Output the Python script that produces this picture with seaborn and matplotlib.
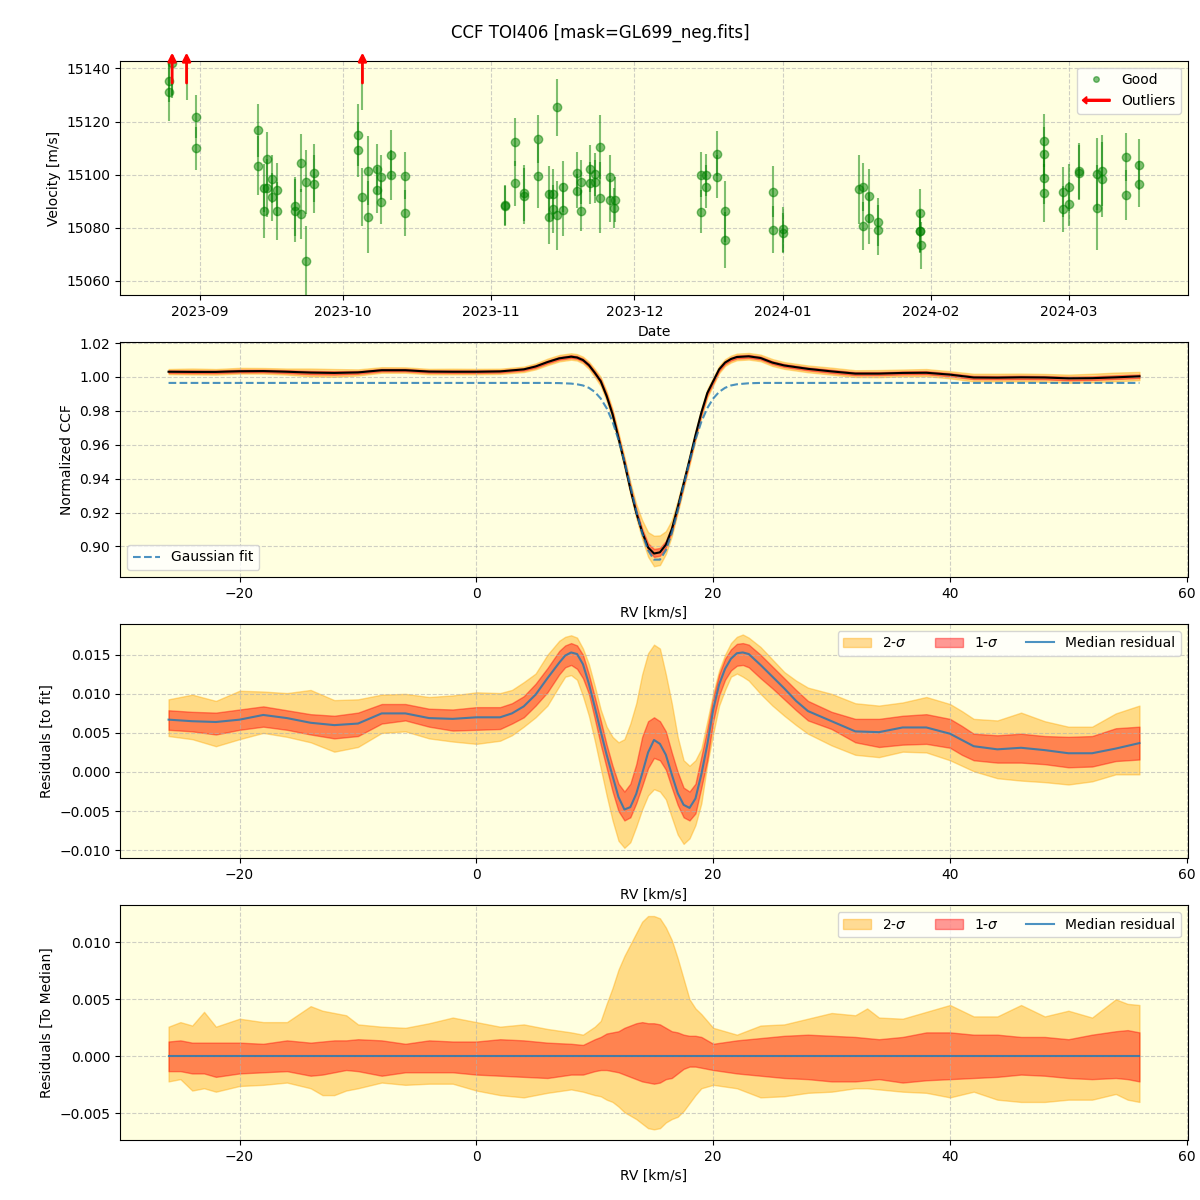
import numpy as np
import pandas as pd
import matplotlib
matplotlib.use("Agg")
import matplotlib.pyplot as plt
import matplotlib.dates as mdates
import matplotlib.patches as mpatches
from matplotlib.lines import Line2D
from matplotlib.legend_handler import HandlerPatch
import seaborn as sns

# ---------------- Panel 1 data: RV time series ----------------
good_dates = (
    ["2023-08-25 12:00"] * 2 + ["2023-08-26 06:00"] + ["2023-08-31 08:00"] * 2 +
    ["2023-09-13 07:00"] * 2 + ["2023-09-14 10:00"] * 2 + ["2023-09-15 05:00"] * 2 +
    ["2023-09-16 06:00"] * 2 + ["2023-09-17 07:00"] * 2 + ["2023-09-21 00:00"] * 2 +
    ["2023-09-22 05:00"] * 2 + ["2023-09-23 05:00"] * 2 + ["2023-09-25 00:00"] * 2 +
    ["2023-10-04 05:00"] * 2 + ["2023-10-05 00:00"] + ["2023-10-06 07:00"] * 2 +
    ["2023-10-08 05:00"] * 2 + ["2023-10-09 00:00"] * 2 + ["2023-10-11 00:00"] * 2 +
    ["2023-10-14 00:00"] * 2 +
    ["2023-11-03 22:00"] * 2 + ["2023-11-06 00:00"] * 2 + ["2023-11-07 19:00"] * 2 +
    ["2023-11-10 22:00"] * 2 + ["2023-11-13 02:00"] * 2 + ["2023-11-14 00:00"] * 2 +
    ["2023-11-14 17:00"] * 2 + ["2023-11-16 00:00"] * 2 + ["2023-11-18 22:00"] * 2 +
    ["2023-11-19 19:00"] * 2 + ["2023-11-21 19:00"] * 2 + ["2023-11-22 17:00"] * 2 +
    ["2023-11-23 17:00"] * 2 + ["2023-11-25 19:00"] * 2 + ["2023-11-26 17:00"] +
    ["2023-11-26 22:00"] +
    ["2023-12-15 00:00"] * 2 + ["2023-12-16 02:00"] * 2 + ["2023-12-18 05:00"] * 2 +
    ["2023-12-20 00:00"] * 2 + ["2023-12-30 02:00"] * 2 + ["2024-01-01 00:00"] * 2 +
    ["2024-01-16 22:00"] + ["2024-01-17 22:00"] * 2 + ["2024-01-19 00:00"] * 2 +
    ["2024-01-21 00:00"] + ["2024-01-20 22:00"] + ["2024-01-29 19:00"] * 3 +
    ["2024-01-30 00:00"] +
    ["2024-02-24 19:00"] * 4 + ["2024-02-28 17:00"] * 2 + ["2024-02-29 22:00"] * 2 +
    ["2024-03-03 00:00"] * 2 + ["2024-03-06 22:00"] * 2 + ["2024-03-07 22:00"] * 2 +
    ["2024-03-12 22:00"] * 2 + ["2024-03-15 17:00"] * 2
)
good_vel = [
    15135.3, 15131.3, 15141.9, 15121.9, 15109.9,
    15116.7, 15103.4, 15094.9, 15086.3, 15106.0, 15094.9, 15098.4, 15091.5, 15094.3,
    15086.3, 15088.1, 15086.5, 15104.5, 15085.2, 15097.4, 15067.6, 15100.7, 15096.5,
    15115.1, 15109.4, 15091.6, 15101.5, 15084.1, 15102.2, 15094.3, 15099.1, 15089.7,
    15107.5, 15100.0, 15099.6, 15085.6,
    15088.7, 15088.2, 15112.4, 15096.7, 15093.1, 15092.0, 15113.5, 15099.6, 15092.8,
    15084.1, 15092.8, 15087.0, 15125.4, 15084.8, 15095.4, 15086.9, 15100.5, 15093.9,
    15097.1, 15086.5, 15102.3, 15096.9, 15100.1, 15097.3, 15110.3, 15091.4, 15099.3,
    15090.3, 15087.5, 15090.6,
    15100.0, 15086.0, 15100.0, 15095.4, 15107.9, 15099.2, 15086.3, 15075.4, 15093.5,
    15079.3, 15079.5, 15078.0,
    15094.5, 15095.4, 15080.7, 15092.0, 15083.7, 15082.2, 15079.2, 15085.6, 15078.9,
    15078.7, 15073.5,
    15112.8, 15107.9, 15098.8, 15093.1, 15093.4, 15087.1, 15095.2, 15089.0,
    15101.5, 15100.8, 15100.3, 15087.6, 15101.5, 15098.2, 15106.8, 15092.5, 15103.8,
    15096.5,
]
good_err = [
    8, 11, 13, 8, 8,
    10, 11, 9, 10, 10, 11, 9, 9, 10, 11, 11, 12, 11, 9.5, 12, 13, 11, 11,
    11.7, 10.3, 11, 13, 13.4, 9.5, 8.7, 8.2, 8.3, 9.2, 9.4, 8.9, 8.6,
    7.5, 7.5, 9, 8.6, 10.4, 10.6, 9, 12, 10.3, 10, 9.4, 9, 10.7, 13, 9.6, 9.9, 8, 6.5,
    8.3, 7.6, 8.7, 7.9, 8, 8.1, 12.1, 13.5, 8.2, 8, 7.5, 8.5,
    8.5, 8.1, 7.9, 8.1, 8.4, 8.1, 11.5, 10.4, 9.6, 8.9, 8.5, 7.5,
    13, 9.1, 9, 10, 9.6, 9.1, 9.4, 9.1, 8, 8, 8.8,
    9.9, 10, 10, 11, 9.4, 8.8, 8.9, 8.4,
    10.5, 10.5, 13.6, 15.9, 13.3, 14.2, 9, 9.4, 9.5, 8.7,
]
out_dates = ["2023-08-26 06:00", "2023-08-29 06:30", "2023-10-05 02:00"]
out_vel = [15150.0, 15150.0, 15150.0]
out_err = [20.0, 21.7, 25.7]

# ---------------- Panel 2 data: CCF ----------------
rv2 = [-26, -24, -22, -20, -18, -16, -14, -12, -10, -8, -6, -4, -2, 0, 2,
       4, 5, 6, 7, 8,
       8.5, 9, 9.5, 10, 10.5, 11, 11.5, 12, 12.5, 13, 13.5, 14, 14.5, 15, 15.5, 16,
       16.5, 17, 17.5, 18, 18.5, 19, 19.5, 20, 20.5, 21, 21.5, 22,
       23, 24, 25, 26,
       28, 30, 32, 34, 36, 38, 40, 42, 44, 46, 48, 50, 52, 54, 56]
ccf_med = [1.0031, 1.0030, 1.0030, 1.0034, 1.0035, 1.0031, 1.0026, 1.0024, 1.0027, 1.0040,
           1.0040, 1.0032, 1.0031, 1.0031, 1.0033,
           1.0045, 1.0062, 1.0088, 1.0110, 1.0120,
           1.0115, 1.0100, 1.0070, 1.0025, 0.9975, 0.9888, 0.9780, 0.9640, 0.9495, 0.9340,
           0.9200, 0.9085, 0.8994, 0.8958, 0.8965, 0.9010, 0.9100, 0.9230, 0.9370, 0.9510,
           0.9655, 0.9790, 0.9905, 0.9975, 1.0045, 1.0085, 1.0106, 1.0118,
           1.0122, 1.0112, 1.0085, 1.0068,
           1.0048, 1.0033, 1.0020, 1.0020, 1.0024, 1.0025, 1.0014, 0.9997, 0.9996, 0.9998,
           0.9997, 0.9992, 0.9993, 0.9998, 1.0004]
gauss_fit = [0.9965] * 15 + [
    0.9965, 0.9965, 0.9965, 0.9964, 0.9961,
    0.9957, 0.9950, 0.9936, 0.9912, 0.9873, 0.9816, 0.9736, 0.9630, 0.9502, 0.9358,
    0.9211, 0.9078, 0.8977, 0.8922, 0.8922, 0.8977, 0.9078, 0.9211, 0.9358, 0.9502,
    0.9630, 0.9736, 0.9816, 0.9873, 0.9912, 0.9936, 0.9950, 0.9957,
    0.9963, 0.9965, 0.9965, 0.9965] + [0.9965] * 15
# band half-widths in units of 1e-3
ccf_d2_up = [1.6, 2.0, 1.7, 2.0, 1.8, 1.9, 2.4, 2.3, 1.8, 1.8, 1.7, 1.6, 1.8, 1.7, 1.6,
             1.6, 1.8, 2.0, 2.0, 2.0,
             2.0, 2.0, 2.0, 2.2, 2.5, 2.8, 3.0, 3.2, 3.5, 4.0, 5.0, 7.0, 9.0, 10.5, 10.0, 8.0,
             5.5, 4.0, 3.2, 3.0, 2.8, 2.5, 2.3, 2.2, 2.0, 2.0, 2.0, 2.0,
             2.0, 2.0, 2.1, 2.0,
             2.0, 2.2, 2.0, 2.1, 2.0, 2.2, 2.0, 2.2, 2.3, 2.2, 2.1, 2.2, 2.6, 2.8, 2.6]
ccf_d2_dn = [1.4, 1.5, 1.6, 1.4, 1.5, 1.7, 2.2, 2.3, 1.8, 1.5, 1.5, 1.6, 1.5, 1.5, 1.5,
             1.6, 1.7, 1.8, 1.8, 1.8,
             1.8, 2.0, 2.2, 2.5, 2.8, 3.0, 3.0, 3.0, 3.0, 3.0, 3.2, 4.0, 5.5, 7.5, 7.5, 5.5,
             4.0, 3.2, 3.0, 3.0, 3.0, 2.8, 2.6, 2.4, 2.2, 2.0, 2.0, 1.9,
             1.9, 1.9, 2.0, 2.0,
             2.0, 1.9, 2.0, 2.1, 2.0, 2.0, 2.2, 2.3, 2.2, 2.4, 2.5, 2.6, 2.4, 2.3, 2.3]
ccf_d1_up = [0.8, 0.9, 0.8, 0.9, 0.8, 0.9, 1.0, 1.0, 0.8, 0.8, 0.8, 0.7, 0.8, 0.8, 0.7,
             0.7, 0.8, 0.9, 0.9, 0.9,
             0.9, 0.9, 0.9, 1.0, 1.1, 1.2, 1.3, 1.4, 1.5, 1.7, 2.0, 1.9, 2.4, 2.7, 2.6, 2.2,
             2.0, 1.6, 1.4, 1.3, 1.2, 1.1, 1.0, 1.0, 0.9, 0.9, 0.9, 0.9,
             0.9, 0.9, 0.9, 0.9,
             0.9, 1.0, 0.9, 0.9, 0.9, 1.0, 0.9, 1.0, 1.0, 1.0, 0.9, 1.0, 1.1, 1.2, 1.1]
ccf_d1_dn = [0.7, 0.7, 0.7, 0.7, 0.7, 0.8, 1.0, 1.0, 0.8, 0.7, 0.7, 0.7, 0.7, 0.7, 0.7,
             0.7, 0.8, 0.8, 0.8, 0.8,
             0.8, 0.9, 1.0, 1.1, 1.2, 1.3, 1.3, 1.3, 1.3, 1.3, 1.4, 1.5, 1.7, 2.0, 2.0, 1.7,
             1.5, 1.4, 1.3, 1.3, 1.3, 1.2, 1.1, 1.1, 1.0, 0.9, 0.9, 0.9,
             0.9, 0.9, 0.9, 0.9,
             0.9, 0.9, 0.9, 0.9, 0.9, 0.9, 1.0, 1.0, 1.0, 1.1, 1.1, 1.2, 1.1, 1.0, 1.0]

# ---------------- Panel 3 data: residuals to fit ----------------
rv3 = [-26, -24, -22, -20, -18, -16, -14, -12, -10, -8, -6, -4, -2, 0, 2,
       3, 4, 5, 6, 7,
       7.5, 8, 8.5, 9, 9.5, 10, 10.5, 11, 11.5, 12, 12.5, 13, 13.5, 14, 14.5, 15, 15.5,
       16, 16.5, 17, 17.5, 18, 18.5, 19, 19.5, 20, 20.5, 21, 21.5, 22, 22.5, 23,
       24, 25, 26, 27, 28,
       30, 32, 34, 36, 38, 40, 41,
       42, 44, 46, 48, 50, 52, 54, 56]
res_med = [0.0067, 0.0065, 0.0064, 0.0067, 0.0073, 0.0069, 0.0063, 0.0060, 0.0062, 0.0075,
           0.0075, 0.0069, 0.0068, 0.0070, 0.0070,
           0.0075, 0.0084, 0.0099, 0.0120, 0.0140,
           0.0149, 0.0153, 0.0151, 0.0138, 0.0113, 0.0083, 0.0052, 0.0022, -0.0005, -0.0032,
           -0.0048, -0.0045, -0.0028, -0.0002, 0.0025, 0.0041, 0.0036, 0.0022, -0.0003,
           -0.0027, -0.0042, -0.0046, -0.0034, -0.0003, 0.0035, 0.0080, 0.0112, 0.0132,
           0.0145, 0.0152, 0.0153, 0.0151,
           0.0137, 0.0122, 0.0107, 0.0091, 0.0078,
           0.0065, 0.0052, 0.0051, 0.0057, 0.0057, 0.0049, 0.0041,
           0.0033, 0.0029, 0.0031, 0.0028, 0.0024, 0.0024, 0.0030, 0.0037]
res_hi2 = [0.0093, 0.0099, 0.0091, 0.0104, 0.0103, 0.0101, 0.0105, 0.0092, 0.0093, 0.0099,
           0.0100, 0.0096, 0.0098, 0.0102, 0.0101,
           0.0105, 0.0115, 0.0126, 0.0150, 0.0168,
           0.0173, 0.0175, 0.0172, 0.0158, 0.0138, 0.0110, 0.0080, 0.0058, 0.0045, 0.0038,
           0.0042, 0.0062, 0.0088, 0.0125, 0.0152, 0.0163, 0.0158, 0.0125, 0.0088, 0.0045,
           0.0015, 0.0008, 0.0015, 0.0030, 0.0065, 0.0101, 0.0130, 0.0150, 0.0165, 0.0173,
           0.0176, 0.0172,
           0.0160, 0.0144, 0.0128, 0.0117, 0.0108,
           0.0100, 0.0088, 0.0085, 0.0089, 0.0096, 0.0087, 0.0078,
           0.0068, 0.0066, 0.0076, 0.0065, 0.0058, 0.0058, 0.0075, 0.0085]
res_lo2 = [0.0046, 0.0042, 0.0033, 0.0042, 0.0050, 0.0045, 0.0038, 0.0026, 0.0032, 0.0050,
           0.0052, 0.0043, 0.0039, 0.0036, 0.0040,
           0.0047, 0.0058, 0.0070, 0.0085, 0.0110,
           0.0122, 0.0124, 0.0118, 0.0097, 0.0072, 0.0040, 0.0005, -0.0030, -0.0062, -0.0088,
           -0.0097, -0.0090, -0.0070, -0.0048, -0.0030, -0.0022, -0.0025, -0.0035, -0.0058,
           -0.0080, -0.0092, -0.0085, -0.0068, -0.0040, 0.0010, 0.0049, 0.0085, 0.0105,
           0.0122, 0.0126, 0.0122, 0.0117,
           0.0100, 0.0085, 0.0072, 0.0060, 0.0049,
           0.0034, 0.0022, 0.0019, 0.0026, 0.0025, 0.0015, 0.0008,
           0.0001, -0.0008, -0.0011, -0.0013, -0.0016, -0.0012, -0.0003, -0.0003]
res_hi1 = [0.0079, 0.0077, 0.0076, 0.0080, 0.0084, 0.0079, 0.0074, 0.0072, 0.0076, 0.0087,
           0.0087, 0.0081, 0.0080, 0.0083, 0.0083,
           0.0088, 0.0097, 0.0113, 0.0133, 0.0155,
           0.0162, 0.0165, 0.0162, 0.0150, 0.0125, 0.0096, 0.0066, 0.0035, 0.0008, -0.0015,
           -0.0025, -0.0015, 0.0010, 0.0045, 0.0065, 0.0070, 0.0065, 0.0052, 0.0025, 0.0000,
           -0.0020, -0.0025, -0.0015, 0.0020, 0.0055, 0.0095, 0.0125, 0.0145, 0.0157, 0.0164,
           0.0165, 0.0163,
           0.0150, 0.0135, 0.0120, 0.0105, 0.0091,
           0.0077, 0.0068, 0.0068, 0.0072, 0.0074, 0.0068, 0.0059,
           0.0049, 0.0047, 0.0049, 0.0046, 0.0045, 0.0046, 0.0056, 0.0058]
res_lo1 = [0.0054, 0.0052, 0.0048, 0.0054, 0.0058, 0.0054, 0.0048, 0.0043, 0.0046, 0.0062,
           0.0066, 0.0058, 0.0053, 0.0054, 0.0055,
           0.0062, 0.0070, 0.0085, 0.0102, 0.0125,
           0.0134, 0.0137, 0.0132, 0.0120, 0.0100, 0.0068, 0.0035, 0.0005, -0.0025, -0.0050,
           -0.0062, -0.0058, -0.0040, -0.0018, 0.0005, 0.0018, 0.0015, 0.0003, -0.0020,
           -0.0042, -0.0058, -0.0062, -0.0053, -0.0020, 0.0015, 0.0065, 0.0098, 0.0118,
           0.0130, 0.0136, 0.0137, 0.0134,
           0.0120, 0.0107, 0.0093, 0.0079, 0.0066,
           0.0055, 0.0038, 0.0032, 0.0035, 0.0036, 0.0031, 0.0022,
           0.0015, 0.0012, 0.0012, 0.0010, 0.0006, 0.0007, 0.0014, 0.0016]

# ---------------- Panel 4 data: residuals to median ----------------
rv4 = [-26, -25, -24, -23, -22, -20, -18, -16, -14, -13, -12, -11, -10, -8, -6, -4, -2, 0,
       2, 4, 6, 8, 9, 10, 10.5, 11, 11.5, 12, 12.5, 13, 13.5, 14, 14.5, 15, 15.5, 16, 16.5,
       17, 17.5, 18, 18.5, 19, 20, 22, 24, 26, 28, 30, 32, 33, 34, 36, 38, 40, 42, 44, 46,
       48, 50, 52, 54, 55, 56]
med_hi2 = [0.0026, 0.0030, 0.0027, 0.0039, 0.0026, 0.0033, 0.0030, 0.0030, 0.0044, 0.0040,
           0.0038, 0.0036, 0.0028, 0.0026, 0.0025, 0.0029, 0.0034, 0.0030, 0.0026, 0.0028,
           0.0024, 0.0021, 0.0019, 0.0026, 0.0031, 0.0046, 0.0060, 0.0076, 0.0088, 0.0098,
           0.0108, 0.0118, 0.0123, 0.0123, 0.0121, 0.0113, 0.0102, 0.0086, 0.0068, 0.0050,
           0.0042, 0.0037, 0.0025, 0.0019, 0.0027, 0.0028, 0.0033, 0.0038, 0.0036, 0.0042,
           0.0034, 0.0033, 0.0039, 0.0045, 0.0035, 0.0035, 0.0045, 0.0035, 0.0040, 0.0034,
           0.0050, 0.0046, 0.0045]
med_lo2 = [-0.0022, -0.0020, -0.0030, -0.0028, -0.0031, -0.0026, -0.0025, -0.0023, -0.0028,
           -0.0034, -0.0034, -0.0030, -0.0028, -0.0023, -0.0025, -0.0024, -0.0024, -0.0030,
           -0.0034, -0.0036, -0.0032, -0.0029, -0.0031, -0.0034, -0.0035, -0.0038, -0.0040,
           -0.0044, -0.0049, -0.0052, -0.0055, -0.0059, -0.0063, -0.0064, -0.0063, -0.0058,
           -0.0055, -0.0053, -0.0048, -0.0041, -0.0034, -0.0028, -0.0025, -0.0028, -0.0036,
           -0.0035, -0.0032, -0.0031, -0.0028, -0.0028, -0.0029, -0.0031, -0.0032, -0.0036,
           -0.0031, -0.0038, -0.0040, -0.0040, -0.0038, -0.0038, -0.0033, -0.0038, -0.0040]
med_hi1 = [0.0013, 0.0014, 0.0012, 0.0012, 0.0012, 0.0012, 0.0011, 0.0014, 0.0012, 0.0013,
           0.0014, 0.0014, 0.0015, 0.0014, 0.0011, 0.0014, 0.0013, 0.0013, 0.0015, 0.0014,
           0.0012, 0.0011, 0.0010, 0.0015, 0.0017, 0.0020, 0.0021, 0.0022, 0.0025, 0.0027,
           0.0029, 0.0030, 0.0029, 0.0029, 0.0028, 0.0025, 0.0022, 0.0021, 0.0019, 0.0018,
           0.0018, 0.0017, 0.0011, 0.0014, 0.0016, 0.0018, 0.0019, 0.0018, 0.0017, 0.0016,
           0.0015, 0.0017, 0.0021, 0.0021, 0.0019, 0.0019, 0.0017, 0.0017, 0.0015, 0.0019,
           0.0022, 0.0023, 0.0021]
med_lo1 = [-0.0013, -0.0013, -0.0015, -0.0015, -0.0018, -0.0015, -0.0014, -0.0013, -0.0017,
           -0.0016, -0.0014, -0.0012, -0.0013, -0.0017, -0.0014, -0.0014, -0.0014, -0.0016,
           -0.0017, -0.0018, -0.0019, -0.0016, -0.0016, -0.0013, -0.0012, -0.0012, -0.0013,
           -0.0014, -0.0016, -0.0018, -0.0020, -0.0022, -0.0023, -0.0024, -0.0023, -0.0020,
           -0.0019, -0.0015, -0.0011, -0.0009, -0.0009, -0.0010, -0.0012, -0.0015, -0.0017,
           -0.0019, -0.0020, -0.0022, -0.0022, -0.0021, -0.0020, -0.0023, -0.0021, -0.0020,
           -0.0019, -0.0018, -0.0016, -0.0017, -0.0019, -0.0020, -0.0019, -0.0020, -0.0022]
med_line = [0.0] * len(rv4)

# ---------------- styling ----------------
BG = "lightyellow"
GRID = dict(linestyle="--", color="#b0b0b0", alpha=0.6, linewidth=0.8)

fig, axes = plt.subplots(4, 1, figsize=(12, 12), dpi=100)
fig.subplots_adjust(left=0.1, right=0.99, top=0.9494, bottom=0.05, hspace=0.2)
fig.suptitle("CCF TOI406 [mask=GL699_neg.fits]", fontsize=12, y=0.98)

# ---- Panel 1 ----
ax = axes[0]
ax.set_facecolor(BG)
gd = pd.to_datetime(good_dates)
od = pd.to_datetime(out_dates)
ax.errorbar(gd, good_vel, yerr=good_err, fmt="o", color="green", alpha=0.5, ms=6,
            elinewidth=1.5)
ax.errorbar(od, out_vel, yerr=out_err, fmt="none", ecolor="green", alpha=0.5,
            elinewidth=1.5)
trans = ax.get_xaxis_transform()
for d in od:
    xd = mdates.date2num(d)
    ax.annotate("", xy=(xd, 1.035), xytext=(xd, 0.905), xycoords=trans,
                textcoords=trans, annotation_clip=False,
                arrowprops=dict(arrowstyle="-|>", color="red", lw=2,
                                mutation_scale=12, shrinkA=0, shrinkB=0))
ax.set_ylim(15054.6, 15142.9)
ax.xaxis.set_major_locator(mdates.MonthLocator())
ax.xaxis.set_major_formatter(mdates.DateFormatter("%Y-%m"))
ax.set_xlabel("Date")
ax.set_ylabel("Velocity [m/s]")
ax.grid(True, **GRID)


def make_arrow(legend, orig_handle, xdescent, ydescent, width, height, fontsize):
    return mpatches.FancyArrow(width - xdescent, 0.5 * height - ydescent, -width, 0,
                               width=1.4, head_width=0.75 * height,
                               head_length=0.45 * height, length_includes_head=True)


good_h = Line2D([], [], marker="o", color="green", alpha=0.5, ls="", ms=4)
out_h = mpatches.FancyArrow(0, 0, 1, 0, color="red")
ax.legend([good_h, out_h], ["Good", "Outliers"], loc="upper right",
          handler_map={mpatches.FancyArrow: HandlerPatch(patch_func=make_arrow)})

# ---- Panel 2 ----
ax = axes[1]
ax.set_facecolor(BG)
rv2a = np.array(rv2)
med2 = np.array(ccf_med)
ax.fill_between(rv2a, med2 - np.array(ccf_d2_dn) * 1e-3, med2 + np.array(ccf_d2_up) * 1e-3,
                color="orange", alpha=0.4)
ax.fill_between(rv2a, med2 - np.array(ccf_d1_dn) * 1e-3, med2 + np.array(ccf_d1_up) * 1e-3,
                color="red", alpha=0.4)
sns.lineplot(x=rv2a, y=med2, ax=ax, color="black", lw=1.5, legend=False)
sns.lineplot(x=rv2a, y=np.array(gauss_fit), ax=ax, color="C0", alpha=0.8, lw=1.5,
             linestyle="--", legend=False)
ax.set_xlabel("RV [km/s]")
ax.set_ylabel("Normalized CCF")
ax.grid(True, **GRID)
ax.legend([Line2D([], [], color="C0", alpha=0.8, lw=1.5, ls="--")], ["Gaussian fit"],
          loc="lower left")

# ---- Panel 3 & 4 ----
def band_panel(ax, rv, lo2, hi2, lo1, hi1, med, ylabel):
    ax.set_facecolor(BG)
    h2 = ax.fill_between(rv, lo2, hi2, color="orange", alpha=0.4)
    h1 = ax.fill_between(rv, lo1, hi1, color="red", alpha=0.4)
    sns.lineplot(x=np.array(rv), y=np.array(med), ax=ax, color="C0", alpha=0.8, lw=1.5,
                 legend=False)
    hl = Line2D([], [], color="C0", alpha=0.8, lw=1.5)
    ax.set_xlabel("RV [km/s]")
    ax.set_ylabel(ylabel)
    ax.grid(True, **GRID)
    ax.legend([h2, h1, hl], ["2-$\\sigma$", "1-$\\sigma$", "Median residual"],
              loc="upper right", ncol=3)


band_panel(axes[2], rv3, res_lo2, res_hi2, res_lo1, res_hi1, res_med, "Residuals [to fit]")
band_panel(axes[3], rv4, med_lo2, med_hi2, med_lo1, med_hi1, med_line,
           "Residuals [To Median]")

for a in axes[1:]:
    a.set_xlim(-30.1, 60.1)

fig.savefig("out.png", dpi=100)
